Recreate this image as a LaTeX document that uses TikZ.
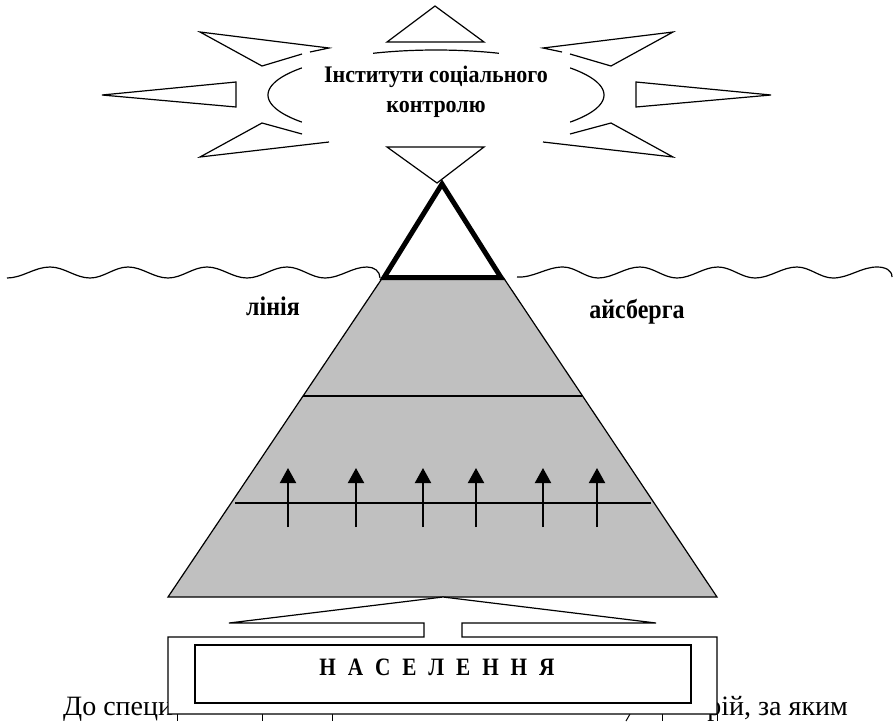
\documentclass[tikz,border=0pt]{standalone}
\usepackage{fontspec}
\setmainfont{Liberation Serif}
\usetikzlibrary{arrows.meta}
\definecolor{icegrey}{HTML}{C0C0C0}
\begin{document}
\begin{tikzpicture}[x=1pt,y=-1pt,
  thinline/.style={line width=1.2pt,line join=miter},
  upar/.style={line width=2pt,-{Triangle[length=15pt,width=16pt]}},
  lbl/.style={font=\fontsize{24pt}{28pt}\selectfont\bfseries,inner sep=0pt},
  sttxt/.style={font=\fontsize{22pt}{28pt}\selectfont\bfseries,inner sep=0pt},
  bodytxt/.style={font=\fontsize{28pt}{32pt}\selectfont,inner sep=0pt}]
\useasboundingbox (0,0) rectangle (895,721);
% ---- star (institutions of social control)
\draw[thinline] (387,42) -- (435,6) -- (484,42) -- cycle;
\draw[thinline] (387,147) -- (484,147) -- (437,183) -- cycle;
\draw[thinline] (236,82) -- (102,95) -- (236,107) -- cycle;
\draw[thinline] (636,82) -- (771,95) -- (636,107) -- cycle;
\draw[thinline] (302,54) -- (262,66) -- (200,32) -- (329,48) -- (310,52);
\draw[thinline] (302,134) -- (262,123) -- (200,157) -- (329,142);
\draw[thinline] (570,54) -- (611,66) -- (673,32) -- (543,48) -- (562,52);
\draw[thinline] (570,134) -- (611,123) -- (673,157) -- (543,142);
\draw[thinline] plot[domain=143:217,samples=40,smooth] ({436+168*cos(\x)},{95-45*sin(\x)});
\draw[thinline] plot[domain=-37:37,samples=40,smooth] ({436+168*cos(\x)},{95-45*sin(\x)});
\draw[thinline] plot[domain=68:112,samples=30,smooth] ({436+168*cos(\x)},{95-45*sin(\x)});
\node[sttxt,anchor=base] (inst1) at (436,82) {\scalebox{1}[1.08]{Інститути соціального}};
\node[sttxt,anchor=base] (inst2) at (436,112) {\scalebox{1}[1.08]{контролю}};
% ---- iceberg
\fill[icegrey] (383,277) -- (503,277) -- (717,597) -- (168,597) -- cycle;
\draw[thinline] (383,277) -- (168,597) -- (717,597) -- (503,277);
\draw[thinline] (303,396) -- (582,396);
\draw[thinline] (235,503) -- (651,503);
\foreach \ax in {288,356,423,476,543,597}
  \draw[upar] (\ax,527) -- (\ax,468);
\draw[line width=5pt,line join=miter,fill=white] (442,184) -- (501,277.5) -- (384,277.5) -- cycle;
% ---- waterline
\draw[thinline] (7,278) .. controls (22.5,278) and (34.5,267) .. (50,267)
  .. controls (64.4,267) and (75.6,278) .. (90,278)
  .. controls (103.7,278) and (114.3,267) .. (128,267)
  .. controls (142.4,267) and (153.6,278) .. (168,278)
  .. controls (182,278) and (193,267) .. (207,267)
  .. controls (221.4,267) and (232.6,278) .. (247,278)
  .. controls (261.4,278) and (272.6,267) .. (287,267)
  .. controls (300.7,267) and (311.3,278) .. (325,278)
  .. controls (340.1,278) and (351.9,267) .. (367,267)
  .. controls (374,267) and (380,271) .. (380,278);
\draw[thinline] (517,277) .. controls (533.6,278) and (546.4,267) .. (563,267)
  .. controls (575.6,267) and (585.4,278) .. (598,278)
  .. controls (613.1,278) and (624.9,267) .. (640,267)
  .. controls (653.3,267) and (663.7,278) .. (677,278)
  .. controls (691.8,278) and (703.2,267) .. (718,267)
  .. controls (731.3,267) and (741.7,278) .. (755,278)
  .. controls (770.1,278) and (781.9,267) .. (797,267)
  .. controls (810,267) and (820,278) .. (833,278)
  .. controls (848.8,278) and (861.2,267) .. (877,267)
  .. controls (885,267) and (892,270) .. (892,277);
\node[lbl,anchor=base] (liniya) at (273,315) {\scalebox{1}[1.12]{лінія}};
\node[lbl,anchor=base] (aysberga) at (637,318) {\scalebox{1}[1.12]{айсберга}};
% ---- text behind the population box
\node[bodytxt,anchor=base west] (txtl) at (63,715) {До специ};
\node[bodytxt,anchor=base east] (txtr) at (848,715) {рій, за яким};
\foreach \tx in {177,262,332,662,717}
  \draw[line width=1pt] (\tx,714) -- (\tx,721);
\draw[line width=1pt] (630,714) -- (626,721);
% ---- population box
\draw[thinline,fill=white] (424,637) -- (424,623) -- (229,623) -- (443,597) -- (656,623)
  -- (462,623) -- (462,637) -- (717,637) -- (717,714) -- (168,714) -- (168,637) -- cycle;
\draw[thinline,fill=white] (195,645) rectangle (691,703);
\node[font=\fontsize{25pt}{30pt}\selectfont\bfseries,inner sep=0pt,anchor=base] (nas) at (437,675)
  {\scalebox{0.85}[1]{Н\hspace{14pt}А\hspace{14pt}С\hspace{14pt}Е\hspace{14pt}Л\hspace{14pt}Е\hspace{14pt}Н\hspace{14pt}Н\hspace{14pt}Я}};
\end{tikzpicture}
\end{document}
